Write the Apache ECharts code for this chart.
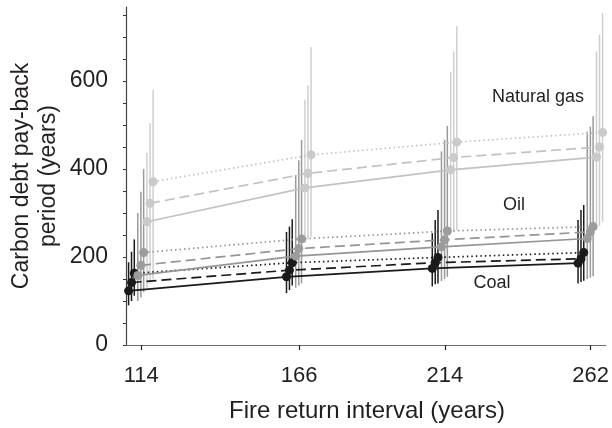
<!DOCTYPE html>
<html>
<head>
<meta charset="utf-8">
<script src="https://cdn.jsdelivr.net/npm/echarts@6/dist/echarts.min.js"></script>
<style>
html,body{margin:0;padding:0;background:#fff;}
#chart{width:612px;height:428px;}
</style>
</head>
<body>
<div id="chart"></div>
<script>
// ---- data ----
const fireIntervals = [114, 166, 214, 262];
const xTickValues = [114, 166, 214, 262];
const yTickValues = [0, 50, 100, 150, 200, 250, 300, 350, 400, 450, 500, 550, 600, 650, 700, 750];
const yLabelValues = [0, 200, 400, 600];

const coalSolid   = [123, 155, 174, 186];
const coalSolidLo = [90, 118, 133, 140];
const coalSolidHi = [188, 257, 254, 284];
const coalDashed   = [142, 170, 187, 196];
const coalDashedLo = [100, 125, 138, 143];
const coalDashedHi = [212, 269, 284, 307];
const coalDotted   = [163, 187, 199, 210];
const coalDottedLo = [112, 135, 140, 146];
const coalDottedHi = [240, 286, 307, 318];

const oilSolid   = [158, 202, 223, 242];
const oilSolidLo = [100, 130, 145, 150];
const oilSolidHi = [300, 386, 440, 485];
const oilDashed   = [181, 219, 239, 257];
const oilDashedLo = [108, 135, 150, 153];
const oilDashedHi = [348, 420, 466, 496];
const oilDotted   = [210, 241, 259, 269];
const oilDottedLo = [120, 140, 155, 156];
const oilDottedHi = [400, 466, 498, 520];

const gasSolid   = [280, 357, 398, 427];
const gasSolidLo = [130, 232, 255, 261];
const gasSolidHi = [436, 557, 621, 667];
const gasDashed   = [322, 390, 426, 450];
const gasDashedLo = [140, 240, 258, 270];
const gasDashedHi = [504, 590, 667, 705];
const gasDotted   = [371, 432, 461, 483];
const gasDottedLo = [148, 246, 261, 280];
const gasDottedHi = [580, 677, 724, 755];

// ---- styling / layout ----
const FONT = 'Liberation Sans, Arial, sans-serif';
const TXT = '#231f20';
const COAL = {dot:'#1a1a1a', line:'#1a1a1a', bar:'#1a1a1a'};
const OIL  = {dot:'#9c9c9c', line:'#959595', bar:'#9a9a9a'};
const GAS  = {dot:'#cacaca', line:'#c2c2c2', bar:'#cfcfcf'};
const SOLID = 'solid', DASHED = [10, 5], DOTTED = [1.5, 3];

const seriesDefs = [
  {name:'Coal solid',  v:coalSolid,  lo:coalSolidLo,  hi:coalSolidHi,  c:COAL, dash:SOLID,  dodge:-4.15},
  {name:'Coal dashed', v:coalDashed, lo:coalDashedLo, hi:coalDashedHi, c:COAL, dash:DASHED, dodge:-3.18},
  {name:'Coal dotted', v:coalDotted, lo:coalDottedLo, hi:coalDottedHi, c:COAL, dash:DOTTED, dodge:-2.27},
  {name:'Oil solid',   v:oilSolid,   lo:oilSolidLo,   hi:oilSolidHi,   c:OIL,  dash:SOLID,  dodge:-1.12},
  {name:'Oil dashed',  v:oilDashed,  lo:oilDashedLo,  hi:oilDashedHi,  c:OIL,  dash:DASHED, dodge:-0.10},
  {name:'Oil dotted',  v:oilDotted,  lo:oilDottedLo,  hi:oilDottedHi,  c:OIL,  dash:DOTTED, dodge:0.81},
  {name:'Gas solid',   v:gasSolid,   lo:gasSolidLo,   hi:gasSolidHi,   c:GAS,  dash:SOLID,  dodge:1.91},
  {name:'Gas dashed',  v:gasDashed,  lo:gasDashedLo,  hi:gasDashedHi,  c:GAS,  dash:DASHED, dodge:2.91},
  {name:'Gas dotted',  v:gasDotted,  lo:gasDottedLo,  hi:gasDottedHi,  c:GAS,  dash:DOTTED, dodge:3.93}
];

const series = [];
// error bars first (below)
seriesDefs.forEach(function(d, i){
  series.push({
    type:'custom',
    name:d.name + ' CI',
    clip:false,
    z: 2 + i*0.01,
    silent:true,
    encode:{x:0, y:[1,2]},
    data: fireIntervals.map(function(x, k){ return [x + d.dodge, d.lo[k], d.hi[k]]; }),
    renderItem: function(params, api){
      const a = api.coord([api.value(0), api.value(1)]);
      const b = api.coord([api.value(0), api.value(2)]);
      return {type:'line', shape:{x1:a[0], y1:a[1], x2:b[0], y2:b[1]},
              style:{stroke:d.c.bar, lineWidth:1.5}};
    }
  });
});
// lines
seriesDefs.forEach(function(d, i){
  series.push({
    type:'line',
    name:d.name,
    z: 3,
    silent:true,
    showSymbol:false,
    symbol:'none',
    data: fireIntervals.map(function(x, k){ return [x + d.dodge, d.v[k]]; }),
    lineStyle:{color:d.c.line, width:1.7, type:d.dash},
    animation:false
  });
});
// points
seriesDefs.forEach(function(d, i){
  series.push({
    type:'scatter',
    name:d.name + ' pts',
    z: 4,
    silent:true,
    symbol:'circle',
    symbolSize:9,
    data: fireIntervals.map(function(x, k){ return [x + d.dodge, d.v[k]]; }),
    itemStyle:{color:d.c.dot, opacity:1},
    animation:false
  });
});

const chart = echarts.init(document.getElementById('chart'));
chart.setOption({
  animation:false,
  backgroundColor:'#ffffff',
  grid:{left:126, right:5, top:7, bottom:83, containLabel:false},
  xAxis:{
    type:'value', min:109, max:267,
    splitLine:{show:false},
    axisLine:{show:true, lineStyle:{color:'#6e6e6e', width:1.2}},
    axisTick:{show:true, customValues:xTickValues, length:5, lineStyle:{color:'#222', width:1.2}},
    axisLabel:{show:true, customValues:xTickValues, margin:20, fontSize:22, fontFamily:FONT, color:TXT}
  },
  yAxis:{
    type:'value', min:0, max:768,
    splitLine:{show:false},
    axisLine:{show:true, lineStyle:{color:'#444', width:1.2}},
    axisTick:{show:true, customValues:yTickValues, length:3, lineStyle:{color:'#333', width:1}},
    axisLabel:{show:true, customValues:yLabelValues, margin:18, fontSize:23, fontFamily:FONT, color:TXT}
  },
  graphic:[
    {type:'text', x:367, y:411, style:{text:'Fire return interval (years)', font:'24px ' + FONT, fill:TXT, align:'center', verticalAlign:'middle'}},
    {type:'text', x:22, y:176, rotation:Math.PI/2, style:{text:'Carbon debt pay-back', font:'23px ' + FONT, fill:TXT, align:'center', verticalAlign:'middle'}},
    {type:'text', x:49, y:176, rotation:Math.PI/2, style:{text:'period (years)', font:'23px ' + FONT, fill:TXT, align:'center', verticalAlign:'middle'}},
    {type:'text', x:538, y:97, style:{text:'Natural gas', font:'18px ' + FONT, fill:TXT, align:'center', verticalAlign:'middle'}},
    {type:'text', x:514, y:205, style:{text:'Oil', font:'18px ' + FONT, fill:TXT, align:'center', verticalAlign:'middle'}},
    {type:'text', x:492, y:283, style:{text:'Coal', font:'18px ' + FONT, fill:TXT, align:'center', verticalAlign:'middle'}}
  ],
  series:series
});
</script>
</body>
</html>
